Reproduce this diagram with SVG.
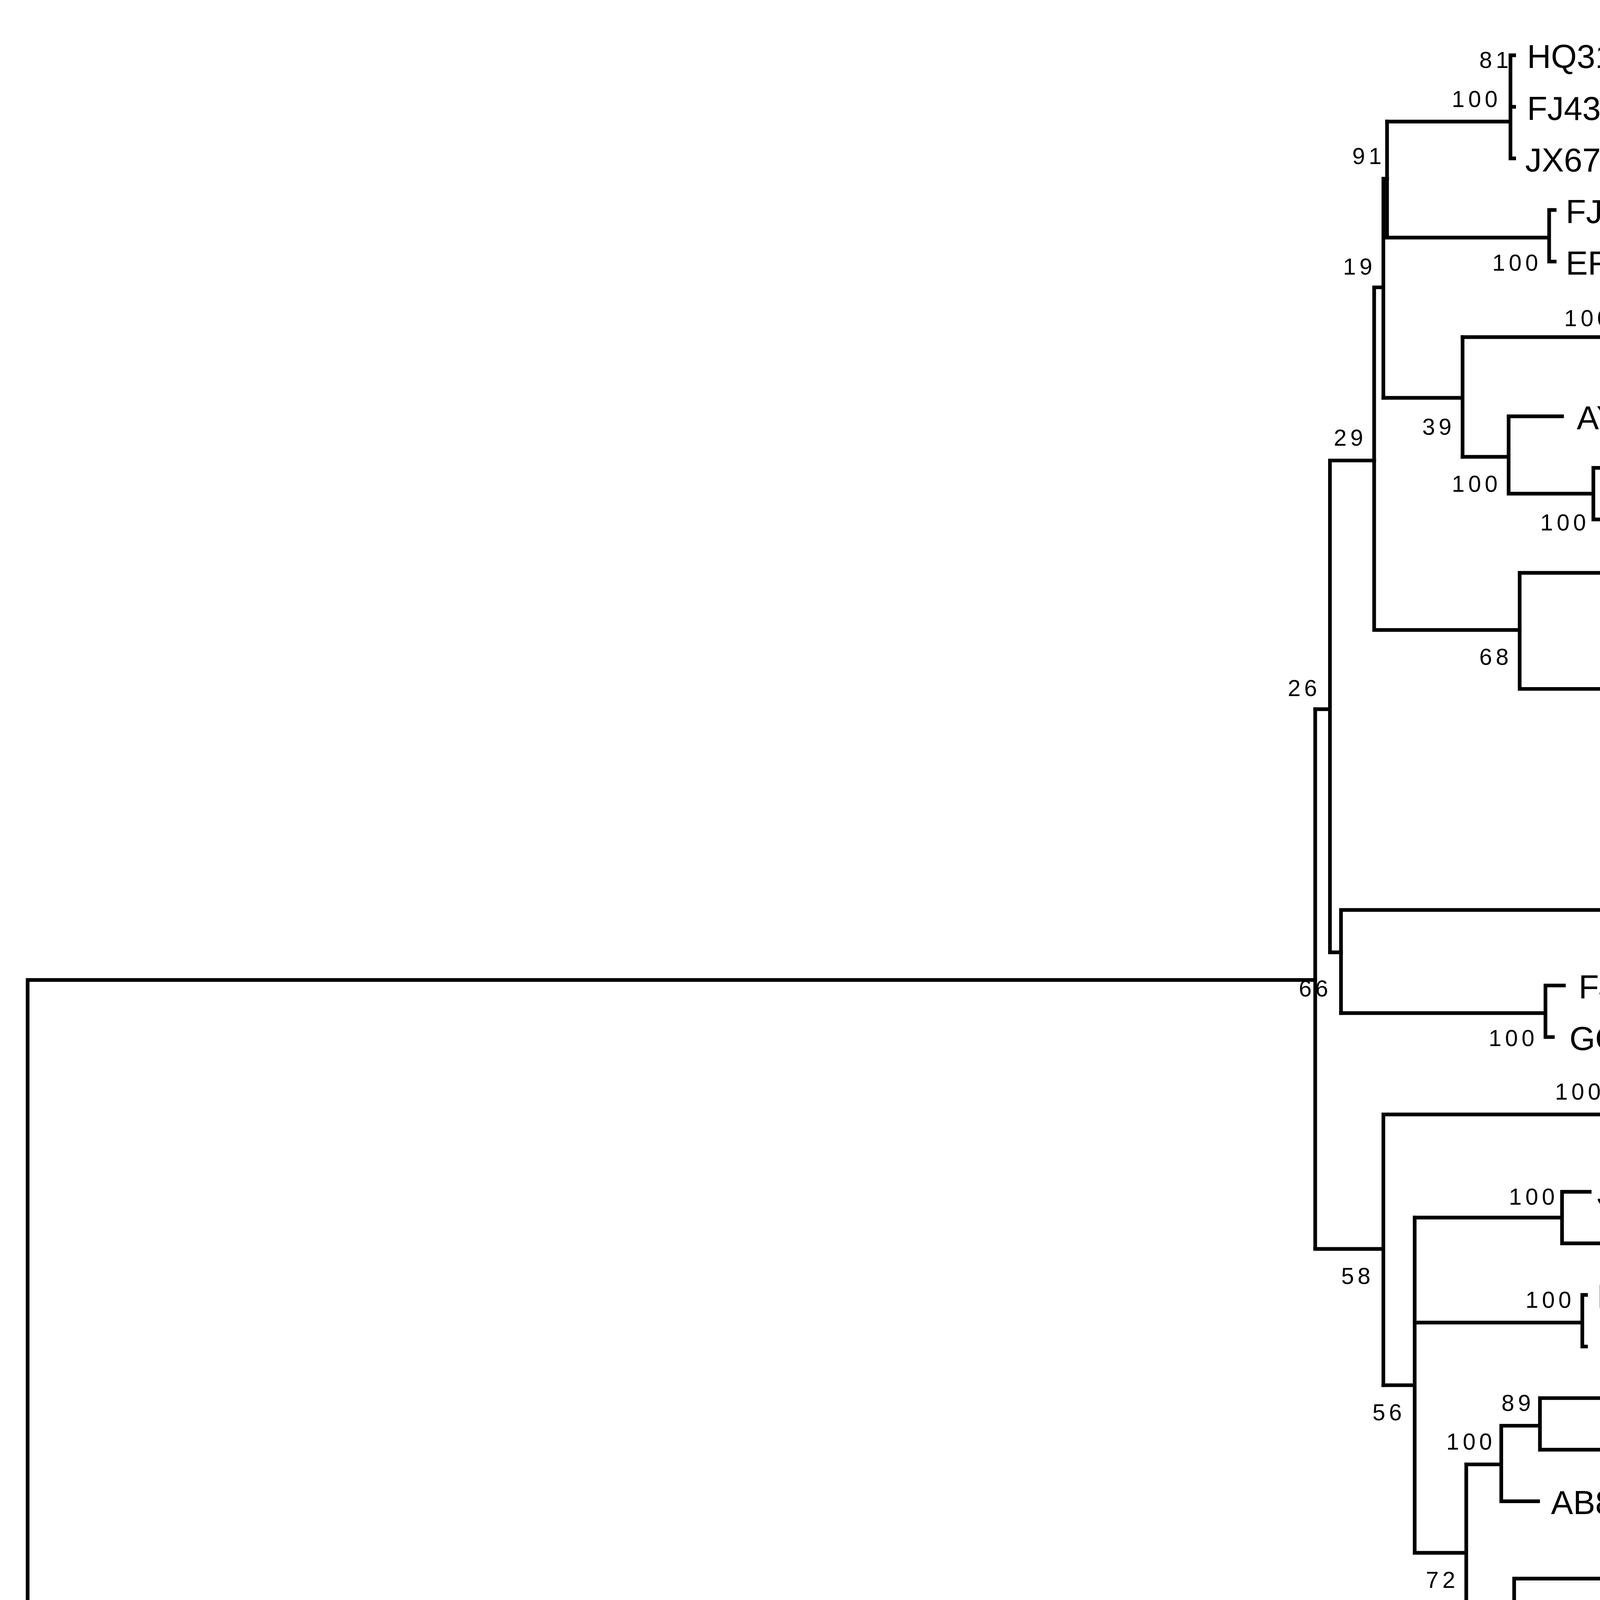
<svg xmlns="http://www.w3.org/2000/svg" width="7394" height="4588" viewBox="0 0 7394 4588">
<style>
.e{fill:none;stroke:#000;stroke-width:2;stroke-linecap:square}
.l{font-family:"Liberation Sans",Arial,sans-serif;font-size:18px;fill:#000}
.b{font-family:"Liberation Sans",Arial,sans-serif;font-size:12.5px;letter-spacing:2px;fill:#000;text-anchor:end}
.g{font-family:"DejaVu Sans Condensed","DejaVu Sans",sans-serif;font-size:15.5px;fill:#000}
.k{fill:none;stroke:#000;stroke-width:2}
</style>
<rect width="7394" height="4588" fill="#fff"/>
<g transform="scale(4.7156)">
<g id="connectors" class="e">
<path d="M15,973V532H714"/>
<path d="M714,385V678"/>
<path d="M714,385H722M722,250V517M722,250H746M722,517H728"/>
<path d="M746,156V342H825"/>
<path d="M746,156H751V97H753M751,97V216"/>
<path d="M753,66V129"/>
<path d="M753,66H820M820,30V86M820,30H822M820,58H822M820,86H822"/>
<path d="M753,129H841M841,114V142M841,114H844M841,142H844"/>
<path d="M751,216H794M794,183V248"/>
<path d="M794,183H880M880,170V198M880,170H924M880,198H903"/>
<path d="M794,248H819M819,226V268M819,226H848M819,268H865M865,254V282M865,254H882M865,282H890"/>
<path d="M825,311V374M825,311H913M825,374H907M907,339V409M907,339H917M907,409H913M913,367V452M913,367H915M913,395H915M913,423H915M913,452H915"/>
<path d="M728,494V550M728,494H923M923,479V507M923,479H952M923,507H948"/>
<path d="M728,550H839M839,535V563M839,535H849M839,563H843"/>
<path d="M714,678H751M751,605V752M751,605H874M874,591V619M874,591H911M874,619H956"/>
<path d="M751,752H768M768,661V843"/>
<path d="M768,661H848M848,647V675M848,647H863M848,675H872"/>
<path d="M768,718H859M859,703V731M859,703H861M859,731H861"/>
<path d="M768,843H796M796,795V890"/>
<path d="M796,795H815M815,774V815M815,815H835M815,774H836M836,759V787M836,759H915M836,787H923"/>
<path d="M796,890H822M822,857V924M822,857H898M898,843V871M898,843H912M898,871H914"/>
<path d="M822,924H850M850,899V949M850,899H961M850,949H856M856,927V975M856,927H974M856,970H908M908,955V975M908,955H924"/>
</g>
<g id="brackets" class="k">
<path d="M1093,20H1102V95H1093"/>
<path d="M1176,104H1183V152H1176"/>
<path d="M1410,160H1419V209H1410"/>
<path d="M1279,216H1287V293H1279"/>
<path d="M1157,329H1165V460H1157"/>
<path d="M1234,469H1241V516H1234"/>
<path d="M1246,524H1254V572H1246"/>
<path d="M1298,637H1306V685H1298"/>
<path d="M1076,693H1084V741H1076"/>
<path d="M1337,749H1345V826H1337"/>
<path d="M1200,833H1208V880H1200"/>
<path d="M1380,890H1389V980"/>
</g>
<g id="genotypes" class="g">
<text x="1108" y="63">Genotype IX</text>
<text x="1189" y="134">Genotype III</text>
<text x="1425" y="190">Genotype X</text>
<text x="1293" y="260">Genotype I</text>
<text x="1172" y="400">Genotype II</text>
<text x="1248" y="498">Genotype XI</text>
<text x="1260" y="555">Genotype IV</text>
<text x="1312" y="667">Genotype V</text>
<text x="1090" y="723">Genotype VIII</text>
<text x="1351" y="793">Genotype VI</text>
<text x="1214" y="863">Genotype VII</text>
<text x="1395" y="947">Genotype XIII</text>
</g>
<g id="bootstrap">
<text class="b" x="821" y="37">81</text>
<text class="b" x="815" y="58">100</text>
<text class="b" x="752" y="89">91</text>
<text class="b" x="747" y="149">19</text>
<text class="b" x="837" y="147">100</text>
<text class="b" x="876" y="177">100</text>
<text class="b" x="790" y="236">39</text>
<text class="b" x="742" y="242">29</text>
<text class="b" x="815" y="267">100</text>
<text class="b" x="863" y="288">100</text>
<text class="b" x="821" y="361">68</text>
<text class="b" x="717" y="378">26</text>
<text class="b" x="904" y="393">100</text>
<text class="b" x="911" y="428">100</text>
<text class="b" x="919" y="485">100</text>
<text class="b" x="723" y="541">66</text>
<text class="b" x="835" y="568">100</text>
<text class="b" x="871" y="597">100</text>
<text class="b" x="846" y="654">100</text>
<text class="b" x="746" y="697">58</text>
<text class="b" x="855" y="710">100</text>
<text class="b" x="833" y="766">89</text>
<text class="b" x="812" y="787">100</text>
<text class="b" x="763" y="771">56</text>
<text class="b" x="792" y="862">72</text>
<text class="b" x="896" y="850">100</text>
<text class="b" x="818" y="882">69</text>
<text class="b" x="846" y="943">93</text>
<text class="b" x="852" y="969">43</text>
</g>
<g id="leaves" class="l">
<g id="n1"><text x="829" y="37">HQ317394  NDV GD09-2</text></g>
<g id="n2"><text x="829" y="65">FJ436304 NDV FJ/1/85/Ch</text></g>
<g id="n3"><text x="828" y="93">JX677561 NDV XBT14</text></g>
<g id="n4"><text x="850" y="121">FJ430160 NDV JS/9/05/Go</text></g>
<g id="n5"><text x="850" y="149">EF201805 NDV strain Mukteswar</text></g>
<g id="n6"><text x="931" y="177">GQ288389 NDV mallard/US(MN)/99-376/1999</text></g>
<g id="n7"><text x="910" y="205">GQ288378 NDV northern pintail/US(OH)/87-486/1987</text></g>
<g id="n8"><text x="856" y="233">AY562991 NDV chicken/N. Ireland/Ulster/67</text></g>
<g id="n9"><text x="889" y="261">HM063424 NDV R8</text></g>
<g id="n10"><text x="898" y="289">HM063422 NDV D3</text></g>
<g id="n11"><text x="921" y="317">DQ682445</text></g>
<g id="n12"><text x="926" y="345">AF309418 NDV B1</text></g>
<g id="n13"><text x="922" y="373">AF077761 NDV LaSota</text></g>
<g id="n14"><circle cx="931" cy="395" r="10" fill="#000"/><text x="947" y="401" font-weight="bold">NDV Duck</text></g>
<g id="n15"><circle cx="931" cy="423" r="10" fill="#000"/><text x="947" y="429" font-weight="bold">NDV Parrot</text></g>
<g id="n16"><text x="921" y="457">KM056354 ndv58/D-58</text></g>
<g id="n17"><text x="960" y="486">HQ266602 NDV MG 725 08</text></g>
<g id="n18"><text x="955" y="514">HQ266603 NDV MG 1992</text></g>
<g id="n19"><text x="857" y="542">FJ986192 NDV 2K3/Chennai/Tamil Nadu</text></g>
<g id="n20"><text x="852" y="570">GQ288387  NDV/2K36/peacock/Chennai</text></g>
<g id="n21"><text x="918" y="598">JX915242 NDV chicken/DominicanRepublic/28138-4/1986</text></g>
<g id="n22"><text x="965" y="626">JX119193 NDV chicken/DominicanRepublic(JuanLopez)/499-31/2008</text></g>
<g id="n23"><text x="867" y="654">JQ247691 NDV APMV-1/chicken/Ca/2098/71</text></g>
<g id="n24"><text x="879" y="682">HM117720  NDV-P05</text></g>
<g id="n25"><text x="867" y="710">FJ751918 NDV QH1</text></g>
<g id="n26"><text x="869" y="738">FJ751919 NDV QH4</text></g>
<g id="n27"><text x="923" y="766">JF827026 NDV Pi/Rus/Vladimir/687/05</text></g>
<g id="n28"><text x="931" y="794">HM063423 NDV W4</text></g>
<g id="n29"><text x="842" y="822">AB853926  APMV1/chicken/Japan/Osaka/2440/1969</text></g>
<g id="n30"><text x="920" y="850">KM977903 NDV HB/1/05/Dk</text></g>
<g id="n31"><text x="920" y="878">JN599167 NDV BP01</text></g>
<g id="n32"><text x="969" y="906">KP089979 NDV strain Nagpur</text></g>
<g id="n33"><text x="983" y="934">KR072665  NDV/Chicken/Ranchi/01/2014</text></g>
<g id="n34"><text x="932" y="962">GU585905 NDV chicken/Sweden/97</text></g>
</g>
</g>
</svg>
